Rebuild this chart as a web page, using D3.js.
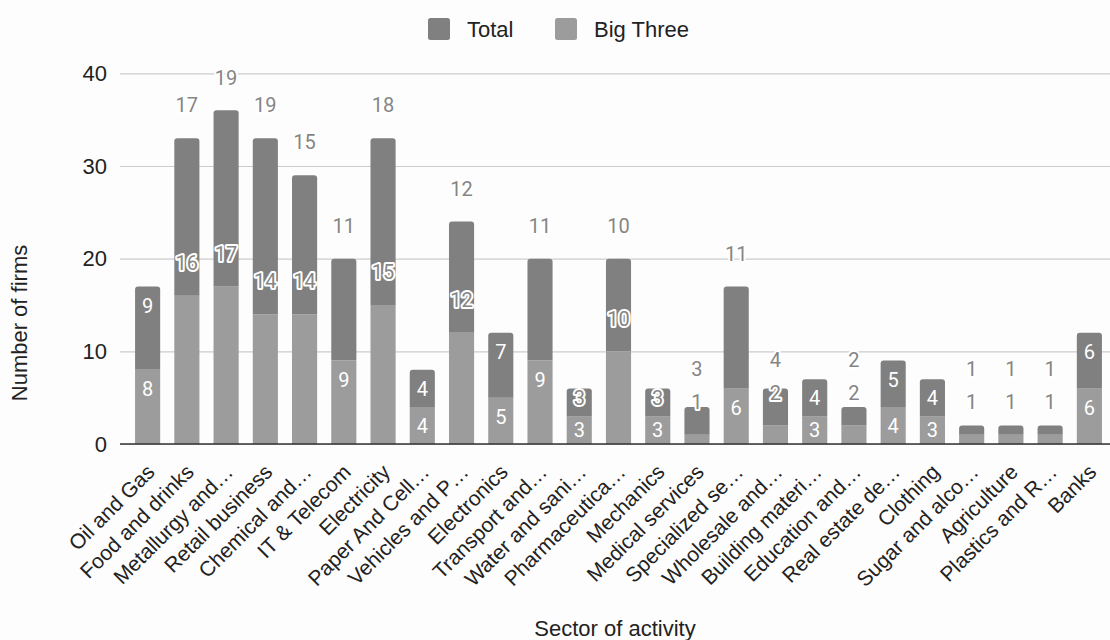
<!DOCTYPE html>
<html>
<head>
<meta charset="utf-8">
<script src="https://cdn.jsdelivr.net/npm/d3@7"></script>
<style>
  html, body { margin: 0; padding: 0; background: #fdfdfd; }
  svg { display: block; }
</style>
</head>
<body>
<svg id="chart" width="1110" height="640"></svg>
<script>
// Firms per sector of activity: Big Three holdings stacked under the "Total" segment
const sectors = [
  "Oil and Gas", "Food and drinks", "Metallurgy and…", "Retail business", "Chemical and…",
  "IT & Telecom", "Electricity", "Paper And Cell…", "Vehicles and P…", "Electronics",
  "Transport and…", "Water and sani…", "Pharmaceutica…", "Mechanics", "Medical services",
  "Specialized se…", "Wholesale and…", "Building materi…", "Education and…", "Real estate de…",
  "Clothing", "Sugar and alco…", "Agriculture", "Plastics and R…", "Banks"
];
const bigThree = [8, 16, 17, 14, 14, 9, 15, 4, 12, 5, 9, 3, 10, 3, 1, 6, 2, 3, 2, 4, 3, 1, 1, 1, 6];
const total    = [9, 17, 19, 19, 15, 11, 18, 4, 12, 7, 11, 3, 10, 3, 3, 11, 4, 4, 2, 5, 4, 1, 1, 1, 6];
const yTicks = [0, 10, 20, 30, 40];
const seriesNames = ["Total", "Big Three"];

const colors = { total: "#808080", big: "#9c9c9c" };
const svg = d3.select("#chart");

const y = d3.scaleLinear().domain([0, 40]).range([444, 73.3]);
const x = d3.scaleBand().domain(sectors).range([128, 1109]).paddingInner(0.36).paddingOuter(0.18);
const plotLeft = 120, plotRight = 1110;

// gridlines + y tick labels
const yAxis = d3.axisLeft(y).tickValues(yTicks).tickSize(-(plotRight - plotLeft)).tickPadding(13);
const gy = svg.append("g").attr("transform", `translate(${plotLeft},0)`).call(yAxis);
gy.select(".domain").remove();
gy.selectAll(".tick line").attr("stroke", "#cccccc").attr("stroke-width", 1.2);
gy.selectAll(".tick text")
  .attr("font-family", "'Liberation Sans', Arial, sans-serif")
  .attr("font-size", 22).attr("fill", "#222");

// stacked data
const rows = sectors.map((s, i) => ({ s, b: bigThree[i], t: total[i] }));

function roundTopPath(x0, y0, w, h, r) {
  r = Math.min(r, h, w / 2);
  return `M${x0},${y0 + h}V${y0 + r}Q${x0},${y0} ${x0 + r},${y0}H${x0 + w - r}Q${x0 + w},${y0} ${x0 + w},${y0 + r}V${y0 + h}Z`;
}

const bars = svg.append("g");
rows.forEach(d => {
  const x0 = x(d.s), w = x.bandwidth();
  bars.append("rect")
    .attr("x", x0).attr("y", y(d.b)).attr("width", w).attr("height", y(0) - y(d.b))
    .attr("fill", colors.big);
  bars.append("path")
    .attr("d", roundTopPath(x0, y(d.b + d.t), w, y(d.b) - y(d.b + d.t), 3))
    .attr("fill", colors.total);
});

// zero baseline
svg.append("line").attr("x1", plotLeft).attr("x2", plotRight)
  .attr("y1", y(0)).attr("y2", y(0)).attr("stroke", "#333").attr("stroke-width", 1.5);

// value labels: inside the segment end when they fit, otherwise above, stacked clear of each other
const insideOff = 19, outsideOff = 33, stackGap = 32.5, minGap = 30;
const fits = (v, segPx) => String(v).length === 1 && segPx >= 25;
const labels = [];
rows.forEach(d => {
  const cx = x(d.s) + x.bandwidth() / 2;
  const bTop = y(d.b), bPx = y(0) - y(d.b);
  let bl;
  if (fits(d.b, bPx)) bl = { y: Math.min(bTop + insideOff, y(d.b / 2)), inside: true };
  else bl = { y: bTop - outsideOff, inside: false };
  const tTop = y(d.b + d.t), tPx = y(d.b) - tTop;
  let tl;
  if (fits(d.t, tPx)) tl = { y: Math.min(tTop + insideOff, y(d.b + d.t / 2)), inside: true };
  else tl = { y: tTop - outsideOff, inside: false };
  if (bl.y - tl.y < minGap) tl = { y: bl.y - stackGap, inside: false };
  labels.push({ cx, v: d.b, ...bl }, { cx, v: d.t, ...tl });
});

const lg = svg.append("g")
  .attr("font-family", "Roboto, 'Noto Sans', sans-serif").attr("font-size", 20)
  .attr("text-anchor", "middle");
lg.selectAll("text").data(labels).join("text")
  .attr("x", d => d.cx).attr("y", d => d.y).attr("dy", "0.36em")
  .text(d => d.v)
  .attr("fill", d => d.inside ? "#ffffff" : "#858585")
  .attr("stroke", d => d.inside ? "none" : "#ffffff")
  .attr("stroke-width", d => d.inside ? 0 : 4)
  .attr("stroke-linejoin", "round")
  .attr("paint-order", "stroke");

// category axis
const xAxis = d3.axisBottom(x).tickSize(0).tickPadding(0);
const gx = svg.append("g").attr("transform", `translate(0,${y(0)})`).call(xAxis);
gx.select(".domain").remove();
gx.selectAll(".tick text")
  .attr("font-family", "'Liberation Sans', Arial, sans-serif")
  .attr("font-size", 21).attr("fill", "#222")
  .attr("text-anchor", "end")
  .attr("dominant-baseline", "central")
  .attr("dy", null).attr("y", null)
  .attr("transform", "translate(3,24) rotate(-45)");

// axis titles
svg.append("text").attr("x", 615).attr("y", 636)
  .attr("text-anchor", "middle")
  .attr("font-family", "'Liberation Sans', Arial, sans-serif").attr("font-size", 22).attr("fill", "#222")
  .text("Sector of activity");
svg.append("text").attr("transform", "translate(27,323) rotate(-90)")
  .attr("text-anchor", "middle")
  .attr("font-family", "'Liberation Sans', Arial, sans-serif").attr("font-size", 22).attr("fill", "#222")
  .text("Number of firms");

// legend
const legend = svg.append("g").attr("font-family", "'Liberation Sans', Arial, sans-serif")
  .attr("font-size", 22).attr("fill", "#222");
const legendItems = [
  { name: seriesNames[0], color: colors.total, x: 428, tx: 467 },
  { name: seriesNames[1], color: colors.big, x: 555, tx: 594 }
];
legendItems.forEach(it => {
  legend.append("rect").attr("x", it.x).attr("y", 18).attr("width", 22).attr("height", 22)
    .attr("rx", 2.5).attr("fill", it.color);
  legend.append("text").attr("x", it.tx).attr("y", 37).text(it.name);
});
</script>
</body>
</html>
